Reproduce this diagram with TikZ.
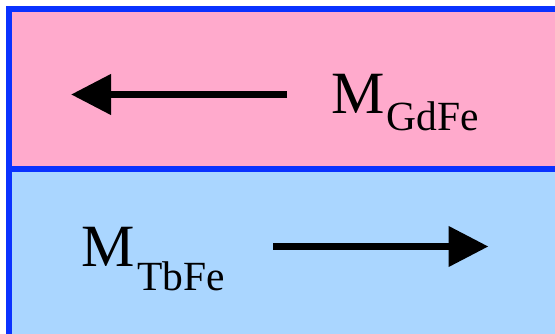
\documentclass[tikz,border=0pt]{standalone}
\usepackage{fontspec}
\setmainfont{Liberation Serif}
\usetikzlibrary{arrows.meta}
\definecolor{layerpink}{RGB}{255,170,204}
\definecolor{layerblue}{RGB}{170,214,255}
\definecolor{edgeblue}{RGB}{10,50,255}

\begin{document}
\begin{tikzpicture}[x=1pt, y=-1pt,
    moment/.style={line width=7.5pt, -{Triangle[length=40pt,width=39pt]}},
    maglabel/.style={anchor=base west, inner sep=0pt, font=\fontsize{60}{72}\selectfont}]
        \useasboundingbox (0,0) rectangle (555,334);

        % Layers
        \fill[layerpink] (9,9) rectangle (555,169);
        \fill[layerblue] (9,169) rectangle (555,334);
        \draw[edgeblue, line width=5.8pt] (9.3,334) -- (9.3,9.3) -- (555,9.3);
        \draw[edgeblue, line width=5.8pt] (6.5,169) -- (555,169);

        % Magnetization arrows
        \coordinate (gdfe start) at (287,94.5);
        \coordinate (gdfe end) at (71,94.5);
        \draw[moment] (gdfe start) -- (gdfe end);
        \coordinate (tbfe start) at (273,246.5);
        \coordinate (tbfe end) at (488.5,246.5);
        \draw[moment] (tbfe start) -- (tbfe end);

        % Labels
        \node[maglabel] (mgdfe) at (331,113.3) {M\kern2pt\raisebox{-17.7pt}{\fontsize{41.5}{48}\selectfont GdFe}};
        \node[maglabel] (mtbfe) at (81,266.7) {M\kern3pt\raisebox{-24.3pt}{\fontsize{41.5}{48}\selectfont TbFe}};
\end{tikzpicture}
\end{document}
